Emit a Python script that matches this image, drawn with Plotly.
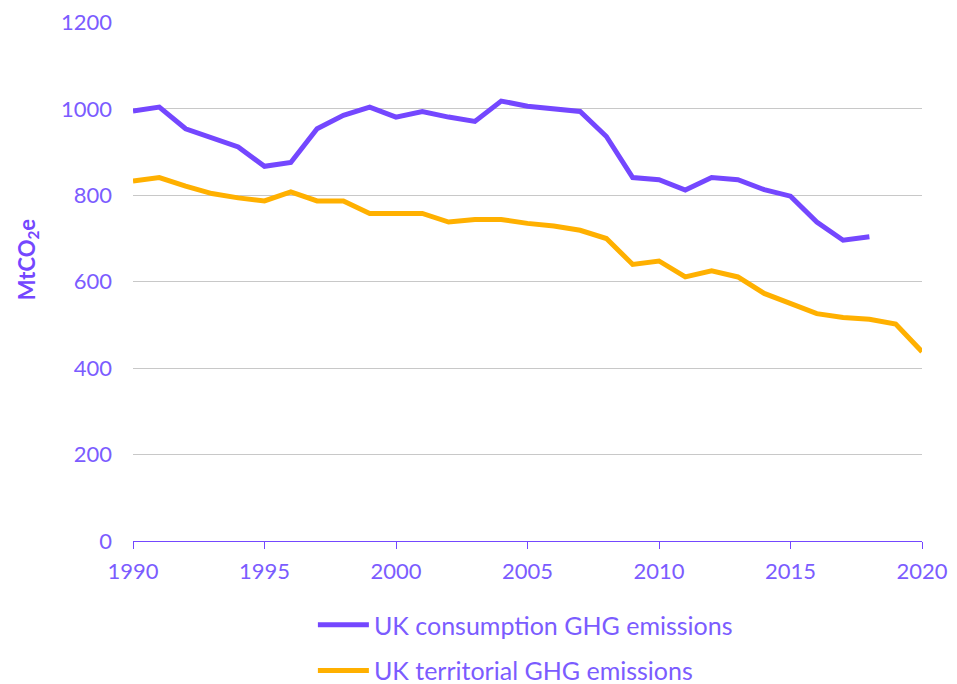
import plotly.graph_objects as go

years = list(range(1990, 2021))
consumption_years = list(range(1990, 2019))
consumption = [995, 1004, 954, 933, 912, 867, 876, 954, 985, 1004,
               981, 994, 981, 971, 1018, 1006, 1000, 994, 936, 841,
               836, 812, 841, 836, 813, 798, 738, 696, 704]
territorial = [833, 841, 821, 804, 794, 787, 808, 787, 787, 758,
               758, 758, 738, 744, 744, 735, 729, 719, 700, 640,
               648, 611, 625, 611, 573, 551, 526, 517, 513, 502, 438]
series_names = ["UK consumption GHG emissions", "UK territorial GHG emissions"]
x_ticks = [1990, 1995, 2000, 2005, 2010, 2015, 2020]
y_ticks = [0, 200, 400, 600, 800, 1000, 1200]

PURPLE = "#7447FF"
TEXT = "#7B5CFF"
ORANGE = "#FFB000"
FONT = "Lato, sans-serif"

fig = go.Figure()
fig.add_trace(go.Scatter(x=consumption_years, y=consumption, mode="lines",
                         name=series_names[0], line=dict(color=PURPLE, width=5),
                         legend="legend"))
fig.add_trace(go.Scatter(x=years, y=territorial, mode="lines",
                         name=series_names[1], line=dict(color=ORANGE, width=5),
                         legend="legend2"))

leg_common = dict(xanchor="left", yanchor="middle", itemwidth=51,
                  font=dict(size=25, color=TEXT, family=FONT),
                  bgcolor="rgba(0,0,0,0)")

fig.update_layout(
    width=949, height=676,
    margin=dict(l=125, r=35, t=14, b=143, autoexpand=False),
    paper_bgcolor="white", plot_bgcolor="white",
    font=dict(family=FONT, color=TEXT, size=22),
    showlegend=True,
    legend=dict(x=0.228, y=-0.162, **leg_common),
    legend2=dict(x=0.228, y=-0.25, **leg_common),
    xaxis=dict(range=[1990, 2020], tickvals=x_ticks, showgrid=False,
               showline=True, linecolor=PURPLE, linewidth=1,
               ticks="outside", ticklen=7, tickcolor=PURPLE,
               ticklabelstandoff=4,
               tickfont=dict(size=22, color=TEXT), zeroline=False),
    yaxis=dict(range=[0, 1201], tickvals=y_ticks, showgrid=True,
               gridcolor="#C8C8C8", gridwidth=1, zeroline=False,
               showline=False, ticks="", ticklabelstandoff=20,
               tickfont=dict(size=22, color=TEXT)),
    annotations=[dict(text="<b>MtCO<sub>2</sub>e</b>", textangle=-90,
                      xref="paper", yref="paper", x=-0.133, y=0.543,
                      xanchor="center", yanchor="middle", showarrow=False,
                      font=dict(size=22, color=PURPLE, family=FONT))],
)

fig.write_html("out.html")
